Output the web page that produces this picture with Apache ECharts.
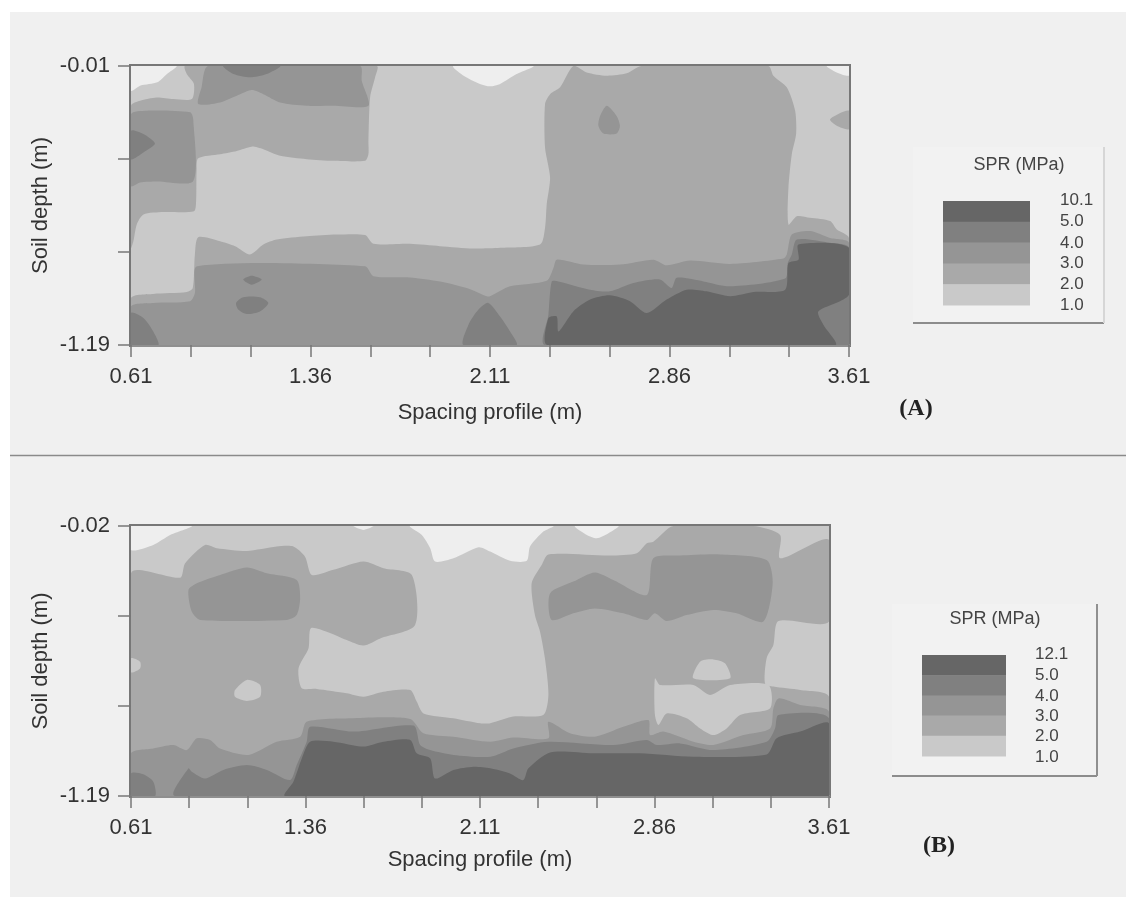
<!DOCTYPE html>
<html><head><meta charset="utf-8">
<script src="https://cdn.jsdelivr.net/npm/echarts@6/dist/echarts.min.js"></script>
<style>html,body{margin:0;padding:0;background:#fff}#c{width:1134px;height:899px;filter:blur(0.5px)}</style>
</head><body><div id="c"></div>
<script>
// Contour bands: index = band (0: <1, 1: 1-2, 2: 2-3, 3: 3-4, 4: 4-5, 5: >5 MPa)
const bandColors = ['#eeeeee','#c9c9c9','#a9a9a9','#959595','#808080','#666666'];
const xTicks = [0.61,0.86,1.11,1.36,1.61,1.86,2.11,2.36,2.61,2.86,3.11,3.36,3.61];
const xLabels = [0.61,1.36,2.11,2.86,3.61];
const yTicksA = [0.01,0.403,0.797,1.19];
const yLabelsA = [0.01,1.19];
const yTicksB = [0.02,0.41,0.80,1.19];
const yLabelsB = [0.02,1.19];
const legendLabelsA = ['10.1','5.0','4.0','3.0','2.0','1.0'];
const legendLabelsB = ['12.1','5.0','4.0','3.0','2.0','1.0'];
const legendBands = [5,4,3,2,1];

// Panel A contours: [spacing m, depth m]
const a1_base = [[0.61,0.01],[3.61,0.01],[3.61,1.19],[0.61,1.19]];
const a0_left = [[0.61,0.01],[0.80,0.01],[0.76,0.044],[0.72,0.079],[0.65,0.093],[0.61,0.115]];
const a0_mid = [[1.957,0.01],[2.0,0.051],[2.068,0.086],[2.11,0.096],[2.152,0.086],[2.221,0.044],[2.291,0.01]];
const a0_right = [[3.517,0.01],[3.559,0.037],[3.61,0.051],[3.61,0.01]];
const a2_upper = [[.836,.01],[1.637,.01],[1.63,.058],[1.609,.143],[1.602,.327],[1.602,.383],[1.588,.411],[1.456,.411],[1.344,.404],[1.233,.39],[1.163,.362],[1.114,.351],[1.052,.369],[.982,.383],[.891,.4],[.884,.454],[.882,.581],[.873,.624],[.745,.628],[.662,.638],[.634,.68],[.62,.751],[.61,.779],[.61,.178],[.648,.157],[.717,.143],[.787,.15],[.864,.15],[.873,.086],[.843,.044]];
const a2_lower = [[.61,.991],[.703,.974],[.843,.966],[.868,.949],[.877,.807],[.891,.734],[.982,.751],[1.045,.772],[1.107,.807],[1.163,.765],[1.219,.744],[1.344,.73],[1.47,.723],[1.588,.725],[1.623,.762],[1.776,.762],[1.901,.772],[2.041,.782],[2.152,.779],[2.319,.765],[2.34,.694],[2.347,.595],[2.361,.482],[2.34,.355],[2.34,.171],[2.361,.129],[2.403,.1],[2.458,.01],[2.514,.037],[2.598,.051],[2.681,.041],[2.744,.01],[3.273,.01],[3.294,.051],[3.35,.1],[3.385,.199],[3.389,.298],[3.371,.383],[3.357,.525],[3.357,.68],[3.392,.645],[3.447,.652],[3.531,.666],[3.559,.701],[3.61,.737],[3.61,1.19],[.61,1.19]];
const a2_edge = [[3.61,.199],[3.531,.235],[3.559,.263],[3.61,.277]];
const a3_top = [[.933,.01],[1.567,.01],[1.574,.072],[1.602,.178],[1.456,.178],[1.344,.178],[1.233,.164],[1.163,.129],[1.114,.112],[1.052,.136],[.982,.164],[.891,.171],[.905,.1]];
const a3_left = [[.61,.214],[.675,.199],[.857,.206],[.87,.235],[.87,.496],[.717,.499],[.648,.503],[.61,.518]];
const a3_drop = [[2.598,.178],[2.639,.221],[2.653,.263],[2.639,.296],[2.584,.296],[2.563,.263],[2.57,.221]];
const a3_bottom = [[.61,1.027],[.703,1.012],[.857,1.005],[.877,.97],[.887,.857],[1.588,.857],[1.623,.899],[1.776,.904],[1.901,.921],[2.013,.949],[2.096,.984],[2.11,.984],[2.194,.942],[2.347,.918],[2.375,.864],[2.389,.829],[2.5,.85],[2.653,.85],[2.793,.829],[2.848,.853],[2.946,.833],[3.113,.847],[3.336,.824],[3.35,.807],[3.371,.723],[3.447,.708],[3.531,.737],[3.61,.758],[3.61,1.19],[.61,1.19]];
const a4_corner = [[.61,1.055],[.662,1.076],[.703,1.133],[.724,1.19],[.61,1.19]];
const a4_top = [[.996,.01],[1.233,.01],[1.177,.044],[1.107,.058],[1.038,.044]];
const a4_left = [[.61,.284],[.662,.298],[.71,.338],[.662,.376],[.61,.404]];
const a4_spot1 = [[1.079,.913],[1.114,.897],[1.156,.913],[1.114,.935]];
const a4_spot2 = [[1.049,1.012],[1.079,.988],[1.149,.988],[1.184,1.012],[1.149,1.048],[1.093,1.059],[1.059,1.041]];
const a4_arc = [[1.999,1.19],[2.02,1.104],[2.061,1.041],[2.103,1.012],[2.152,1.069],[2.194,1.133],[2.221,1.19]];
const a4_right = [[2.34,1.19],[2.354,1.062],[2.368,.921],[2.396,.921],[2.528,.956],[2.611,.963],[2.709,.928],[2.82,.913],[2.869,.949],[2.89,.906],[3.002,.921],[3.113,.942],[3.343,.909],[3.354,.843],[3.371,.807],[3.392,.744],[3.531,.758],[3.61,.779],[3.61,1.19]];
const a5_main = [[2.35,1.19],[2.354,1.076],[2.389,1.069],[2.396,1.133],[2.458,1.048],[2.528,.998],[2.611,.98],[2.695,1.005],[2.765,1.055],[2.848,.998],[2.932,.956],[3.015,.963],[3.113,.984],[3.21,.966],[3.343,.956],[3.357,.843],[3.399,.829],[3.399,.765],[3.61,.779],[3.61,.977],[3.482,1.048],[3.503,1.104],[3.552,1.19]];

// Panel B contours: [spacing m, depth m]
const b1_base = [[0.61,0.02],[3.61,0.02],[3.61,1.19],[0.61,1.19]];
const b0_left = [[.61,.02],[.871,.02],[.778,.059],[.706,.102],[.61,.124]];
const b0_small = [[1.566,.02],[1.652,.02],[1.609,.037]];
const b0_big = [[1.81,.02],[1.86,.059],[1.896,.116],[1.917,.174],[1.996,.16],[2.104,.112],[2.154,.131],[2.239,.171],[2.311,.171],[2.325,.109],[2.382,.044],[2.425,.02]];
const b0_cap = [[2.518,.02],[2.569,.059],[2.612,.073],[2.662,.051],[2.705,.02]];
const b2_main = [[.61,.225],[.821,.244],[.842,.182],[.928,.102],[.979,.116],[1.108,.128],[1.236,.109],[1.308,.109],[1.358,.153],[1.387,.232],[1.48,.21],[1.609,.174],[1.695,.203],[1.817,.232],[1.831,.449],[1.681,.507],[1.609,.538],[1.537,.514],[1.451,.478],[1.383,.463],[1.373,.55],[1.33,.637],[1.344,.723],[1.408,.726],[1.537,.745],[1.609,.76],[1.695,.738],[1.81,.731],[1.838,.781],[1.867,.832],[1.996,.853],[2.111,.875],[2.154,.875],[2.253,.846],[2.382,.839],[2.404,.752],[2.389,.593],[2.368,.478],[2.346,.406],[2.332,.268],[2.375,.189],[2.404,.143],[2.669,.148],[2.784,.138],[2.827,.095],[2.855,.088],[2.941,.02],[3.285,.02],[3.4,.059],[3.4,.16],[3.61,.08],[3.61,.434],[3.393,.432],[3.371,.536],[3.342,.593],[3.335,.702],[3.371,.716],[3.486,.731],[3.61,.76],[3.61,1.19],[.61,1.19]];
const b1_dot1 = [[.61,.593],[.649,.608],[.649,.637],[.61,.654]];
const b1_dot2 = [[1.057,.731],[1.108,.687],[1.165,.709],[1.165,.76],[1.108,.778],[1.057,.76]];
const b1_blob = [[3.027,.68],[3.056,.608],[3.113,.598],[3.163,.615],[3.185,.68]];
const b1_patch = [[2.862,.68],[2.884,.709],[3.027,.709],[3.099,.752],[3.185,.709],[3.35,.709],[3.357,.81],[3.228,.839],[3.17,.897],[3.113,.926],[3.056,.897],[2.998,.853],[2.912,.832],[2.877,.882],[2.862,.839]];
const b3_upperLeft = [[.857,.297],[.893,.268],[.993,.232],[1.108,.2],[1.194,.225],[1.322,.254],[1.337,.333],[1.322,.406],[1.28,.427],[.907,.427],[.871,.391]];
const b3_upperRight = [[2.411,.312],[2.511,.261],[2.604,.221],[2.683,.254],[2.827,.319],[2.855,.16],[2.97,.148],[3.142,.143],[3.342,.167],[3.368,.268],[3.328,.434],[3.213,.398],[3.113,.384],[2.998,.406],[2.912,.432],[2.862,.398],[2.827,.427],[2.726,.398],[2.604,.377],[2.511,.398],[2.418,.427]];
const b3_lower = [[.61,1.005],[.706,.984],[.792,.969],[.85,.991],[.893,.94],[.95,.947],[.993,.984],[1.115,1.012],[1.236,.955],[1.337,.933],[1.365,.868],[1.566,.853],[1.81,.856],[1.867,.918],[1.996,.933],[2.154,.955],[2.253,.937],[2.404,.94],[2.404,.868],[2.497,.918],[2.604,.933],[2.726,.89],[2.834,.861],[2.841,.926],[2.898,.911],[3.027,.955],[3.113,.969],[3.242,.926],[3.357,.897],[3.371,.81],[3.393,.767],[3.486,.796],[3.61,.825],[3.61,1.19],[.61,1.19]];
const b4_corner = [[.61,1.092],[.663,1.096],[.706,1.128],[.713,1.19],[.61,1.19]];
const b4_main = [[.799,1.19],[.857,1.07],[.871,1.085],[.928,1.114],[1.007,1.077],[1.108,1.056],[1.194,1.077],[1.294,1.121],[1.322,1.056],[1.365,.955],[1.38,.89],[1.566,.911],[1.824,.885],[1.853,.969],[1.896,.991],[1.996,1.012],[2.154,1.02],[2.253,.984],[2.404,.955],[2.683,.969],[2.827,.947],[2.87,.969],[2.97,.962],[3.113,.991],[3.342,.955],[3.378,.897],[3.393,.839],[3.61,.853],[3.61,1.19]];
const b5_main = [[1.272,1.19],[1.308,1.128],[1.344,1.027],[1.38,.955],[1.48,.955],[1.609,.976],[1.695,.955],[1.81,.947],[1.838,1.005],[1.896,1.027],[1.917,1.114],[1.996,1.077],[2.082,1.063],[2.154,1.07],[2.239,1.092],[2.296,1.121],[2.318,1.07],[2.411,1.001],[2.597,1.005],[2.798,1.005],[3.027,1.02],[3.342,1.01],[3.385,.94],[3.486,.911],[3.61,.875],[3.61,1.19]];

const layersA = [[1,a1_base],[0,a0_left],[0,a0_mid],[0,a0_right],[2,a2_upper],[2,a2_lower],[2,a2_edge],[3,a3_top],[3,a3_left],[3,a3_drop],[3,a3_bottom],[4,a4_corner],[4,a4_top],[4,a4_left],[4,a4_spot1],[4,a4_spot2],[4,a4_arc],[4,a4_right],[5,a5_main]];
const layersB = [[1,b1_base],[0,b0_left],[0,b0_small],[0,b0_big],[0,b0_cap],[2,b2_main],[1,b1_dot1],[1,b1_dot2],[1,b1_blob],[1,b1_patch],[3,b3_upperLeft],[3,b3_upperRight],[3,b3_lower],[4,b4_corner],[4,b4_main],[5,b5_main]];

const FONT = 'Liberation Sans', TXT = '#333333', LINE = '#777777';
function contourSeries(layers, idx){
  return {type:'custom',name:idx?'SPR B':'SPR A',xAxisIndex:idx,yAxisIndex:idx,clip:true,silent:true,z:2,
    data:layers.map(l=>[l[1][0][0],l[1][0][1],l[0]]),
    renderItem(params,api){
      const l=layers[params.dataIndex];
      const full=params.dataIndex===0;
      return {type:'polygon',shape:{points:l[1].map(p=>api.coord(p)),smooth:full?0:0.25},style:{fill:bandColors[l[0]]}};
    }};
}
function xAxis(idx,gap,margin){
  return {type:'value',gridIndex:idx,min:0.61,max:3.61,name:'Spacing profile (m)',nameLocation:'middle',nameGap:gap,nameMoveOverlap:false,
    nameTextStyle:{fontFamily:FONT,fontSize:22,color:TXT},
    axisLine:{show:true,lineStyle:{color:'#8f8f8f',width:3}},
    axisTick:{show:true,length:12,lineStyle:{color:LINE,width:1.5},customValues:xTicks},
    axisLabel:{show:true,fontFamily:FONT,fontSize:22,color:TXT,margin:margin,customValues:xLabels,formatter:v=>v.toFixed(2)},
    splitLine:{show:false}};
}
function yAxis(idx,ticks,labels){
  return {type:'value',gridIndex:idx,inverse:true,min:ticks[0],max:ticks[3],name:'Soil depth (m)',nameLocation:'middle',nameGap:79,nameRotate:90,nameMoveOverlap:false,
    nameTextStyle:{fontFamily:FONT,fontSize:22,color:TXT},
    axisLine:{show:true,lineStyle:{color:LINE,width:3}},
    axisTick:{show:true,length:13,lineStyle:{color:LINE,width:1.5},customValues:ticks},
    axisLabel:{show:true,fontFamily:FONT,fontSize:22,color:TXT,margin:21,customValues:labels,formatter:v=>'-'+v.toFixed(2)},
    splitLine:{show:false}};
}
function legend(box,sw,title,labels,labelX,labelYs,rightColor){
  const els=[
    {type:'rect',shape:{x:box[0],y:box[1],width:box[2]-box[0],height:box[3]-box[1]},style:{fill:'#f2f2f2'},z:1},
    {type:'line',shape:{x1:box[0],y1:box[3],x2:box[2],y2:box[3]},style:{stroke:'#8c8c8c',lineWidth:2},z:1},
    {type:'line',shape:{x1:box[2],y1:box[1],x2:box[2],y2:box[3]},style:{stroke:rightColor,lineWidth:2},z:1},
    {type:'text',style:{x:title[0],y:title[1],text:'SPR (MPa)',fontFamily:FONT,fontSize:18,fill:'#444444',align:'center',verticalAlign:'middle'},z:2}
  ];
  const h=(sw[3]-sw[1])/legendBands.length;
  legendBands.forEach((b,i)=>els.push({type:'rect',shape:{x:sw[0],y:sw[1]+i*h,width:sw[2]-sw[0],height:h+0.5},style:{fill:bandColors[b]},z:2}));
  labels.forEach((t,i)=>els.push({type:'text',style:{x:labelX,y:labelYs[i],text:t,fontFamily:FONT,fontSize:17,fill:'#444444',align:'left',verticalAlign:'middle'},z:2}));
  return els;
}
const chart=echarts.init(document.getElementById('c'),null,{renderer:'canvas'});
chart.setOption({
  animation:false,backgroundColor:'#ffffff',
  grid:[
    {left:131,top:66,width:718,height:279,show:true,borderColor:LINE,borderWidth:4,backgroundColor:'transparent'},
    {left:131,top:526,width:698,height:270,show:true,borderColor:LINE,borderWidth:4,backgroundColor:'transparent'}
  ],
  xAxis:[xAxis(0,57,21),xAxis(1,53,21)],
  yAxis:[yAxis(0,yTicksA,yLabelsA),yAxis(1,yTicksB,yLabelsB)],
  series:[contourSeries(layersA,0),contourSeries(layersB,1)],
  graphic:[
    {type:'rect',shape:{x:10,y:12,width:1116,height:885},style:{fill:'#f0f0f0'},z:-10},
    {type:'line',shape:{x1:10,y1:455.5,x2:1126,y2:455.5},style:{stroke:'#8a8a8a',lineWidth:1.5},z:1},
    {type:'text',style:{x:916,y:409,text:'(A)',fontFamily:'Liberation Serif',fontWeight:'bold',fontSize:24,fill:'#222',align:'center',verticalAlign:'middle'},z:2},
    {type:'text',style:{x:939,y:846,text:'(B)',fontFamily:'Liberation Serif',fontWeight:'bold',fontSize:24,fill:'#222',align:'center',verticalAlign:'middle'},z:2},
    ...legend([913,147,1104,323],[943,201,1030,305],[1019,165],legendLabelsA,1060,[200,221,243,263,284,305],'#d6d6d6'),
    ...legend([892,604,1097,776],[922,655,1006,756],[995,619],legendLabelsB,1035,[654,675,696,716,736,757],'#909090')
  ]
});
</script></body></html>
